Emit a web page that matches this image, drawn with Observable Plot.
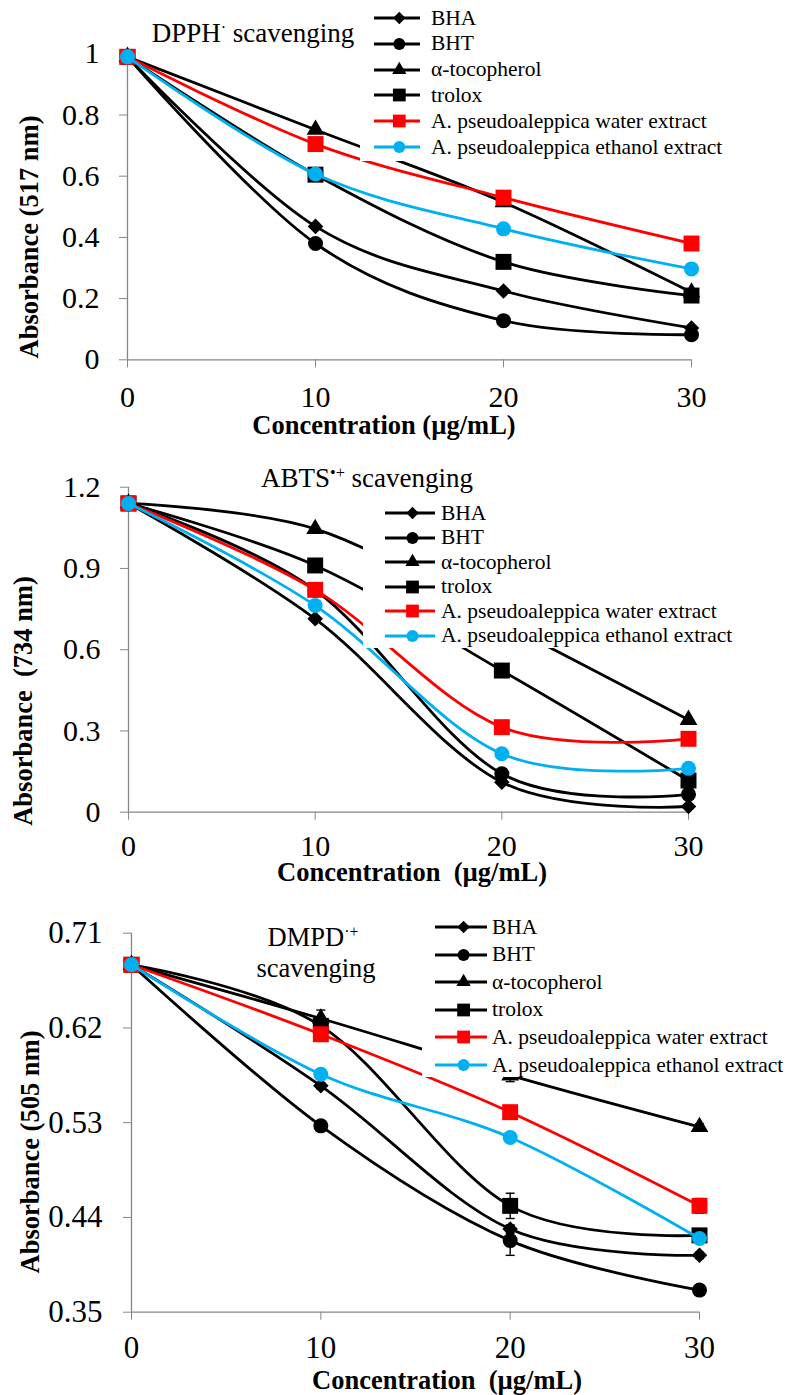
<!DOCTYPE html>
<html>
<head>
<meta charset="utf-8">
<script src="https://cdn.jsdelivr.net/npm/d3@7"></script>
<script src="https://cdn.jsdelivr.net/npm/@observablehq/plot@0.6"></script>
<style>
  html, body { margin: 0; padding: 0; background: #fff; }
  #root { position: relative; width: 789px; height: 1395px; overflow: hidden;
          font-family: "Liberation Serif", "Times New Roman", serif; color: #000; }
  .panel { position: absolute; left: 0; }
  .panel svg { overflow: visible; }
  .txt { position: absolute; white-space: nowrap; line-height: 1; }
  .ctr { transform: translate(-50%, -50%); }
  .rot { transform: translate(-50%, -50%) rotate(-90deg); }
  .bold { font-weight: bold; }
  .legend { position: absolute; background: #fff; }
  .row { position: absolute; left: 0; display: flex; align-items: center; white-space: nowrap; }
  .row svg { flex: none; }
  sup { font-size: 0.6em; vertical-align: 0.55em; line-height: 0; }
</style>
</head>
<body>
<div id="root"></div>
<script>
// ---------------- data ----------------
const concentration = [0, 10, 20, 30];
const seriesNames = ["BHA", "BHT", "α-tocopherol", "trolox",
  "A. pseudoaleppica water extract", "A. pseudoaleppica ethanol extract"];

// DPPH· scavenging, absorbance at 517 nm
const dpphBHA     = [0.99, 0.436, 0.225, 0.104];
const dpphBHT     = [0.99, 0.380, 0.128, 0.082];
const dpphToco    = [0.99, 0.752, 0.515, 0.220];
const dpphTrolox  = [0.99, 0.605, 0.320, 0.210];
const dpphWater   = [0.99, 0.705, 0.530, 0.380];
const dpphEthanol = [0.99, 0.607, 0.428, 0.297];
const dpphTicks   = [0, 0.2, 0.4, 0.6, 0.8, 1];

// ABTS·+ scavenging, absorbance at 734 nm
const abtsBHA     = [1.14, 0.714, 0.111, 0.021];
const abtsBHT     = [1.14, 0.820, 0.142, 0.066];
const abtsToco    = [1.14, 1.046, 0.700, 0.341];
const abtsTrolox  = [1.14, 0.911, 0.523, 0.117];
const abtsWater   = [1.14, 0.821, 0.314, 0.271];
const abtsEthanol = [1.14, 0.763, 0.216, 0.162];
const abtsTicks   = [0, 0.3, 0.6, 0.9, 1.2];

// DMPD·+ scavenging, absorbance at 505 nm
const dmpdBHA     = [0.68, 0.565, 0.429, 0.404];
const dmpdBHT     = [0.68, 0.527, 0.418, 0.371];
const dmpdToco    = [0.68, 0.629, 0.575, 0.526];
const dmpdTrolox  = [0.68, 0.622, 0.451, 0.423];
const dmpdWater   = [0.68, 0.614, 0.540, 0.451];
const dmpdEthanol = [0.68, 0.576, 0.516, 0.420];
const dmpdTicks   = [0.35, 0.44, 0.53, 0.62, 0.71];
// DMPD error bars (±)
const dmpdErrBHA     = [0, 0.003, 0.004, 0.003];
const dmpdErrBHT     = [0, 0.003, 0.014, 0.004];
const dmpdErrToco    = [0, 0.008, 0.006, 0.003];
const dmpdErrTrolox  = [0, 0.003, 0.012, 0.003];
const dmpdErrWater   = [0, 0.004, 0.004, 0.007];
const dmpdErrEthanol = [0, 0.003, 0.003, 0.003];

// ---------------- styles ----------------
const seriesColors  = ["#000000", "#000000", "#000000", "#000000", "#ff0000", "#00b0f0"];
const seriesSymbols = ["diamond2", "circle", "triangle", "square", "square", "circle"];
const seriesR       = [7, 7.5, 6.6, 9, 9, 7.5];
const axisGray = "#868686";

const capSymbol = { draw(ctx, size) { const w = Math.sqrt(size / Math.PI); ctx.moveTo(-w, 0); ctx.lineTo(w, 0); } };

const root = document.getElementById("root");

function addText(html, x, y, size, cls) {
  const d = document.createElement("div");
  d.className = "txt " + cls;
  d.style.left = x + "px"; d.style.top = y + "px"; d.style.fontSize = size + "px";
  d.innerHTML = html;
  root.appendChild(d);
}

function makePanel(cfg) {
  const data = [];
  cfg.values.forEach((vals, i) => vals.forEach((v, j) => data.push({
    idx: i, series: seriesNames[i], x: concentration[j], y: v,
    err: cfg.errors ? cfg.errors[i][j] : 0
  })));

  const marks = [
    Plot.ruleY([cfg.yTicks[0]], {stroke: axisGray, strokeWidth: 1.3}),
    Plot.ruleX([concentration[0]], {stroke: axisGray, strokeWidth: 1.3}),
    Plot.axisX({ticks: concentration, tickSize: 8, tickPadding: cfg.padX, stroke: axisGray,
                fill: "black", label: null, tickFormat: d => String(d)}),
    Plot.axisY({ticks: cfg.yTicks, tickSize: 8, tickPadding: cfg.padY, stroke: axisGray,
                fill: "black", label: null, tickFormat: d => String(d)})
  ];
  seriesNames.forEach((name, i) => {
    const d = data.filter(r => r.idx === i);
    marks.push(Plot.line(d, {x: "x", y: "y", stroke: seriesColors[i], strokeWidth: 2.8,
                             curve: "cardinal", tension: 0}));
    const e = d.filter(r => r.err > 0);
    if (e.length) {
      marks.push(Plot.ruleX(e, {x: "x", y1: r => r.y - r.err, y2: r => r.y + r.err,
                                stroke: "black", strokeWidth: 1.4}));
      marks.push(Plot.dot(e, {x: "x", y: r => r.y - r.err, symbol: capSymbol, r: 4.5,
                              stroke: "black", strokeWidth: 1.4}));
      marks.push(Plot.dot(e, {x: "x", y: r => r.y + r.err, symbol: capSymbol, r: 4.5,
                              stroke: "black", strokeWidth: 1.4}));
    }
    marks.push(Plot.dot(d, {x: "x", y: "y", symbol: seriesSymbols[i], r: seriesR[i],
                            fill: seriesColors[i], stroke: "none"}));
  });

  const svg = Plot.plot({
    width: 789, height: cfg.height,
    marginTop: cfg.mt, marginBottom: cfg.mb, marginLeft: cfg.ml, marginRight: cfg.mr,
    x: {domain: [concentration[0], concentration[concentration.length - 1]]},
    y: {domain: [cfg.yTicks[0], cfg.yTicks[cfg.yTicks.length - 1]]},
    style: {fontFamily: '"Liberation Serif", "Times New Roman", serif', fontSize: cfg.tickFont + "px",
            background: "transparent", color: "black"},
    marks
  });
  const wrap = document.createElement("div");
  wrap.className = "panel";
  wrap.style.top = cfg.top + "px";
  wrap.appendChild(svg);
  root.appendChild(wrap);

  // legend (white box covering the lines behind it)
  const lg = document.createElement("div");
  lg.className = "legend";
  Object.assign(lg.style, {left: cfg.legend.left + "px", top: cfg.legend.top + "px",
    width: (789 - cfg.legend.left) + "px", height: cfg.legend.height + "px"});
  seriesNames.forEach((name, i) => {
    const row = document.createElement("div");
    row.className = "row";
    const cy = cfg.legend.row0 + i * cfg.legend.step - cfg.legend.top;
    row.style.top = (cy - 12) + "px"; row.style.height = "24px";
    row.style.left = (cfg.legend.lineX - cfg.legend.left) + "px";
    row.style.fontSize = cfg.legend.font + "px";
    const L = cfg.legend.lineLen;
    const s = d3.create("svg").attr("width", L).attr("height", 24);
    s.append("line").attr("x1", 0).attr("x2", L).attr("y1", 12).attr("y2", 12)
      .attr("stroke", seriesColors[i]).attr("stroke-width", 2.8);
    const symType = {diamond2: d3.symbolDiamond2, circle: d3.symbolCircle,
                     triangle: d3.symbolTriangle, square: d3.symbolSquare}[seriesSymbols[i]];
    const rr = seriesR[i] * 0.8;
    s.append("path").attr("d", d3.symbol(symType, Math.PI * rr * rr)())
      .attr("transform", `translate(${L * 0.55},12)`).attr("fill", seriesColors[i]);
    row.appendChild(s.node());
    const t = document.createElement("span");
    t.style.marginLeft = cfg.legend.gap + "px";
    t.textContent = name;
    row.appendChild(t);
    lg.appendChild(row);
  });
  root.appendChild(lg);
}

// Panel 1: DPPH
makePanel({
  top: 0, height: 450, mt: 53.3, mb: 90.7, ml: 127, mr: 98,
  yTicks: dpphTicks, padX: 18, padY: 20, tickFont: 30,
  values: [dpphBHA, dpphBHT, dpphToco, dpphTrolox, dpphWater, dpphEthanol],
  legend: {left: 360, top: 0, height: 161, row0: 18, step: 25.8, lineX: 374, lineLen: 46, gap: 11, font: 21.5}
});
addText("DPPH<sup>·</sup> scavenging", 253, 33, 27, "ctr");
addText("Concentration (µg/mL)", 384, 425, 26.5, "ctr bold");
addText("Absorbance (517 nm)", 29, 237, 26.5, "rot bold");

// Panel 2: ABTS
makePanel({
  top: 450, height: 450, mt: 36.7, mb: 88.3, ml: 128, mr: 101,
  yTicks: abtsTicks, padX: 14, padY: 20, tickFont: 30,
  values: [abtsBHA, abtsBHT, abtsToco, abtsTrolox, abtsWater, abtsEthanol],
  legend: {left: 363, top: 492, height: 156, row0: 513, step: 24.5, lineX: 385, lineLen: 50, gap: 6, font: 21.5}
});
addText("ABTS<sup>•+</sup> scavenging", 367, 478, 27, "ctr");
addText("Concentration&nbsp;&nbsp;(µg/mL)", 412, 872, 26.5, "ctr bold");
addText("Absorbance&nbsp;&nbsp;(734 nm)", 23, 701, 26.5, "rot bold");

// Panel 3: DMPD
makePanel({
  top: 900, height: 495, mt: 32.7, mb: 83.3, ml: 131, mr: 90,
  yTicks: dmpdTicks, padX: 16, padY: 21, tickFont: 31,
  values: [dmpdBHA, dmpdBHT, dmpdToco, dmpdTrolox, dmpdWater, dmpdEthanol],
  errors: [dmpdErrBHA, dmpdErrBHT, dmpdErrToco, dmpdErrTrolox, dmpdErrWater, dmpdErrEthanol],
  legend: {left: 422, top: 905, height: 172, row0: 927, step: 27.6, lineX: 435, lineLen: 52, gap: 5, font: 21.5}
});
addText("DMPD<sup>·+</sup>", 313, 937, 26.5, "ctr");
addText("scavenging", 316, 968, 26.5, "ctr");
addText("Concentration&nbsp;&nbsp;(µg/mL)", 447, 1380, 26.5, "ctr bold");
addText("Absorbance (505 nm)", 30, 1152, 26.5, "rot bold");
</script>
</body>
</html>
